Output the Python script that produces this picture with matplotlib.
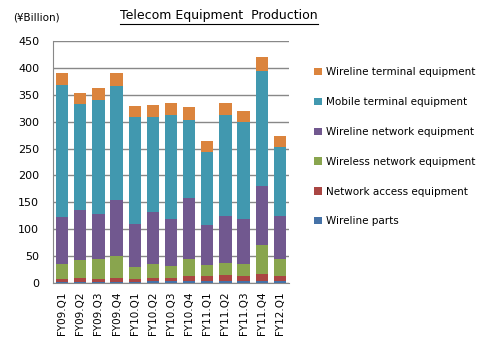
import matplotlib
matplotlib.use("Agg")
import matplotlib.pyplot as plt
import numpy as np

quarters = ["FY09.Q1", "FY09.Q2", "FY09.Q3", "FY09.Q4", "FY10.Q1", "FY10.Q2", "FY10.Q3",
            "FY10.Q4", "FY11.Q1", "FY11.Q2", "FY11.Q3", "FY11.Q4", "FY12.Q1"]

wireline_parts = [2.5, 2.5, 2.5, 2.5, 2.5, 3.5, 3.5, 3.5, 3.5, 3.5, 3.5, 3.5, 3.5]
network_access = [5, 7.5, 5, 7.5, 5, 6, 6, 10, 10, 11, 10, 13, 10]
wireless_network = [28, 33, 37, 40, 22, 25.5, 22, 31, 20, 22, 22, 54, 31]
wireline_network = [87, 93, 84, 104, 81, 97, 87, 113, 74, 89, 84, 110, 80]
mobile_terminal = [246, 196, 212, 213, 199, 177, 194, 146, 137, 186, 179, 213, 129]
wireline_terminal = [22, 22, 22, 24, 20, 22, 22, 24, 20, 24, 21, 26, 19]

series = [
    ("Wireline parts", wireline_parts, "#4572A7"),
    ("Network access equipment", network_access, "#AA4643"),
    ("Wireless network equipment", wireless_network, "#89A54E"),
    ("Wireline network equipment", wireline_network, "#71588F"),
    ("Mobile terminal equipment", mobile_terminal, "#4198AF"),
    ("Wireline terminal equipment", wireline_terminal, "#DB843D"),
]

fig = plt.figure(figsize=(4.86, 3.45), dpi=100)
ax = fig.add_axes([53 / 486, 1 - 283 / 345, 236 / 486, 242 / 345])

x = np.arange(len(quarters))
bottom = np.zeros(len(quarters))
handles = []
for name, vals, col in series:
    b = ax.bar(x, vals, 0.68, bottom=bottom, color=col, label=name, zorder=3)
    handles.append(b)
    bottom += np.array(vals)

ax.set_xlim(-0.5, len(quarters) - 0.5)
ax.set_ylim(0, 450)
ax.set_yticks(range(0, 451, 50))
ax.set_xticks(x)
ax.set_xticklabels(quarters, rotation=90, fontsize=7.5)
ax.tick_params(axis="y", labelsize=8, length=0, pad=10)
ax.tick_params(axis="x", length=0, pad=6)
ax.grid(axis="y", color="#888888", linewidth=1, zorder=0)
for s in ["top", "right"]:
    ax.spines[s].set_visible(False)
for s in ["left", "bottom"]:
    ax.spines[s].set_color("#888888")

fig.legend(handles[::-1], [s[0] for s in series][::-1], loc="upper left",
           bbox_to_anchor=(305 / 486, 1 - 58 / 345), frameon=False, fontsize=7.5,
           handlelength=0.7, handleheight=0.7, handletextpad=0.4, labelspacing=1.9)

fig.text(13 / 486, 1 - 17 / 345, "(\u00a5Billion)", fontsize=7.5, va="center")
title = fig.text(219 / 486, 1 - 16 / 345, "Telecom Equipment  Production", fontsize=9,
                 ha="center", va="center")

# underline the title
fig.canvas.draw()
bb = title.get_window_extent().transformed(fig.transFigure.inverted())
fig.add_artist(plt.Line2D([bb.x0, bb.x1], [bb.y0 - 0.003, bb.y0 - 0.003],
                          transform=fig.transFigure, color="black", linewidth=0.8))

fig.savefig("out.png", dpi=100)
